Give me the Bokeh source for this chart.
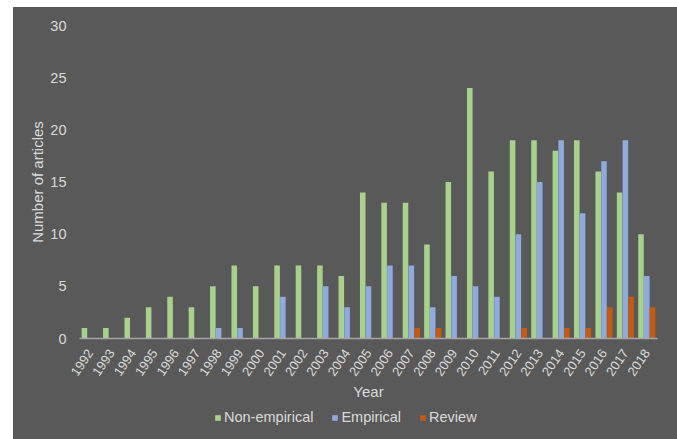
from bokeh.plotting import figure
from bokeh.models import ColumnDataSource, Range1d, FactorRange, Legend, LegendItem, Spacer
from bokeh.layouts import row, column
from bokeh.transform import dodge
from bokeh.embed import file_html
from bokeh.resources import INLINE

years = [str(y) for y in range(1992, 2019)]
non_empirical = [1, 1, 2, 3, 4, 3, 5, 7, 5, 7, 7, 7, 6, 14, 13, 13, 9, 15, 24, 16, 19, 19, 18, 19, 16, 14, 10]
empirical = [0, 0, 0, 0, 0, 0, 1, 1, 0, 4, 0, 5, 3, 5, 7, 7, 3, 6, 5, 4, 10, 15, 19, 12, 17, 19, 6]
review = [0, 0, 0, 0, 0, 0, 0, 0, 0, 0, 0, 0, 0, 0, 0, 1, 1, 0, 0, 0, 1, 0, 1, 1, 3, 4, 3]
y_ticks = [0, 5, 10, 15, 20, 25, 30]
series_names = ["Non-empirical", "Empirical", "Review"]

BG = "#595959"
TXT = "#D9D9D9"
GREEN = "#A9D18E"
BLUE = "#8FAADC"
ORANGE = "#C55A11"
COLORS = [GREEN, BLUE, ORANGE]
FONT = "Liberation Sans"

source = ColumnDataSource(dict(year=years, ne=non_empirical, em=empirical, rv=review))

p = figure(x_range=FactorRange(factors=years), y_range=Range1d(0, 30),
           width=664, height=400, output_backend="svg", toolbar_location=None,
           background_fill_color=BG, border_fill_color=BG, outline_line_color=None,
           min_border_left=66, min_border_right=20, min_border_top=18, min_border_bottom=69)

bw = 0.26
for col, off, c in zip(['ne', 'em', 'rv'], [-0.27, 0.0, 0.27], COLORS):
    p.vbar(x=dodge('year', off, range=p.x_range), top=col, width=bw, source=source,
           fill_color=c, line_color=None)

p.xgrid.visible = False
p.ygrid.visible = False

p.yaxis.ticker = y_ticks
p.yaxis.axis_line_color = None
p.yaxis.major_tick_line_color = None
p.yaxis.minor_tick_line_color = None
p.yaxis.major_tick_out = 0
p.yaxis.major_tick_in = 0
p.yaxis.minor_tick_out = 0
p.yaxis.major_label_text_font = FONT
p.yaxis.major_label_text_font_size = "14.5px"
p.yaxis.major_label_text_color = TXT
p.yaxis.major_label_standoff = 13
p.yaxis.axis_label = "Number of articles"
p.yaxis.axis_label_text_font = FONT
p.yaxis.axis_label_text_font_size = "15px"
p.yaxis.axis_label_text_font_style = "normal"
p.yaxis.axis_label_text_color = TXT
p.yaxis.axis_label_standoff = 1

p.xaxis.axis_line_color = "#A6A6A6"
p.xaxis.axis_line_width = 1.5
p.xaxis.major_tick_line_color = None
p.xaxis.minor_tick_line_color = None
p.xaxis.major_label_orientation = 0.97
p.xaxis.major_label_text_font = FONT
p.xaxis.major_label_text_font_size = "13px"
p.xaxis.major_label_text_color = TXT
p.xaxis.major_label_standoff = 6
p.xaxis.axis_label = "Year"
p.xaxis.axis_label_text_font = FONT
p.xaxis.axis_label_text_font_size = "15px"
p.xaxis.axis_label_text_font_style = "normal"
p.xaxis.axis_label_text_color = TXT
p.xaxis.axis_label_standoff = 1

# legend strip below the chart
lf = figure(width=664, height=32, x_range=Range1d(0, 1), y_range=Range1d(0, 1),
            output_backend="svg", toolbar_location=None,
            background_fill_color=BG, border_fill_color=BG, outline_line_color=None,
            min_border_left=0, min_border_right=0, min_border_top=0, min_border_bottom=0)
lf.axis.visible = False
lf.grid.visible = False
items = []
for name, c in zip(series_names, COLORS):
    r = lf.vbar(x=[5], top=[0], width=0.1, fill_color=c, line_color=None)
    items.append(LegendItem(label=name, renderers=[r]))
legend = Legend(items=items, orientation="horizontal", location=(135, 14),
                background_fill_alpha=0, border_line_color=None,
                label_text_font=FONT, label_text_font_size="14.5px", label_text_color=TXT,
                glyph_width=7, glyph_height=7, label_standoff=3, spacing=18,
                padding=0, margin=0)
lf.add_layout(legend, "center")

chart = column(p, lf, styles={"background-color": BG})
layout = column(Spacer(width=677, height=7),
                row(Spacer(width=13, height=432), chart))
open("out.html", "w").write(file_html(layout, INLINE))
